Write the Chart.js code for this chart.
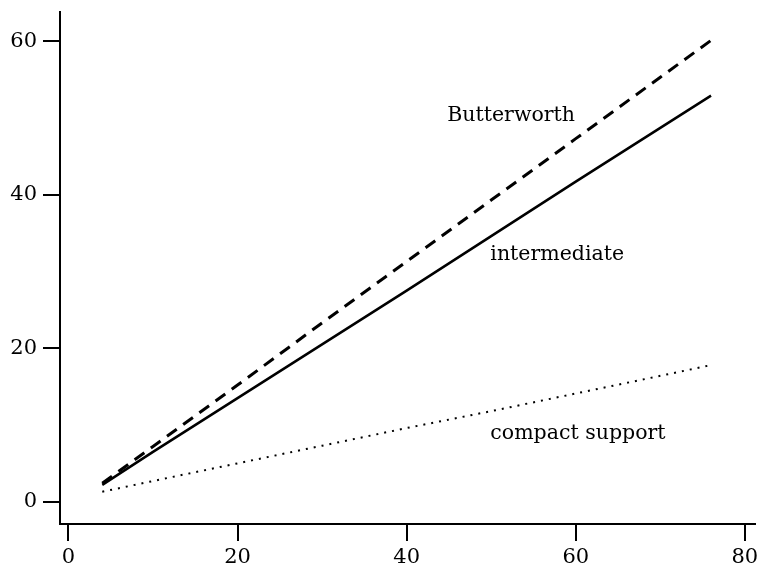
<!DOCTYPE html>
<html>
<head>
<meta charset="utf-8">
<script src="https://cdn.jsdelivr.net/npm/chart.js@4"></script>
<style>
  html, body { margin: 0; padding: 0; background: #fff; }
  #wrap { width: 759px; height: 572px; }
</style>
</head>
<body>
<div id="wrap"><canvas id="canvas" width="759" height="572"></canvas></div>
<script>
// values
const xs = [4, 10, 20, 30, 40, 50, 60, 70, 76];
const butterworth = [2.4, 7.2, 15.2, 23.3, 31.3, 39.3, 47.3, 55.3, 60.1];
const intermediate = [2.2, 6.5, 13.5, 20.5, 27.5, 34.6, 41.7, 48.7, 52.9];
const compactSupport = [1.3, 2.7, 5.0, 7.3, 9.6, 11.8, 14.1, 16.4, 17.8];
const xTicks = [0, 20, 40, 60, 80];
const yTicks = [0, 20, 40, 60];
const curveLabels = [
  { text: "Butterworth", x: 44.8, y: 50.3 },
  { text: "intermediate", x: 49.9, y: 32.2 },
  { text: "compact support", x: 49.9, y: 8.9 }
];

const font = "DejaVu Serif";

function pts(ys) {
  return xs.map((x, i) => ({ x: x, y: ys[i] }));
}

const labelPlugin = {
  id: "curveLabels",
  afterDatasetsDraw(chart) {
    const ctx = chart.ctx;
    ctx.save();
    ctx.fillStyle = "#000";
    ctx.font = "20.5px '" + font + "'";
    ctx.textAlign = "left";
    ctx.textBaseline = "middle";
    curveLabels.forEach((l) => {
      ctx.fillText(l.text, chart.scales.x.getPixelForValue(l.x), chart.scales.y.getPixelForValue(l.y));
    });
    ctx.restore();
  }
};

const axisGrid = {
  drawOnChartArea: false,
  drawTicks: true,
  tickLength: 17,
  color: "#000",
  lineWidth: 2
};

new Chart(document.getElementById("canvas"), {
  type: "scatter",
  data: {
    datasets: [
      {
        label: "Butterworth",
        data: pts(butterworth),
        showLine: true,
        borderColor: "#000",
        borderWidth: 3,
        borderDash: [12, 8],
        pointRadius: 0
      },
      {
        label: "intermediate",
        data: pts(intermediate),
        showLine: true,
        borderColor: "#000",
        borderWidth: 2.5,
        pointRadius: 0
      },
      {
        label: "compact support",
        data: pts(compactSupport),
        showLine: true,
        borderColor: "#000",
        borderWidth: 2,
        borderDash: [2, 6],
        pointRadius: 0
      }
    ]
  },
  plugins: [labelPlugin],
  options: {
    responsive: false,
    animation: false,
    layout: { padding: { top: 12, right: 4, left: 0, bottom: 0 } },
    plugins: { legend: { display: false }, tooltip: { enabled: false } },
    scales: {
      x: {
        type: "linear",
        min: -1,
        max: 81.2,
        afterBuildTicks: (s) => { s.ticks = xTicks.map((v) => ({ value: v })); },
        afterFit: (s) => { s.height = 48; s.paddingLeft = 0; s.paddingRight = 0; },
        grid: axisGrid,
        border: { display: true, color: "#000", width: 2 },
        ticks: { color: "#000", padding: 4, maxRotation: 0, font: { family: font, size: 21 } }
      },
      y: {
        type: "linear",
        min: -2.9,
        max: 63.8,
        afterBuildTicks: (s) => { s.ticks = yTicks.map((v) => ({ value: v })); },
        afterFit: (s) => { s.width = 60; s.paddingTop = 0; s.paddingBottom = 0; },
        grid: axisGrid,
        border: { display: true, color: "#000", width: 2 },
        ticks: { color: "#000", padding: 6, font: { family: font, size: 21 } }
      }
    }
  }
});
</script>
</body>
</html>
